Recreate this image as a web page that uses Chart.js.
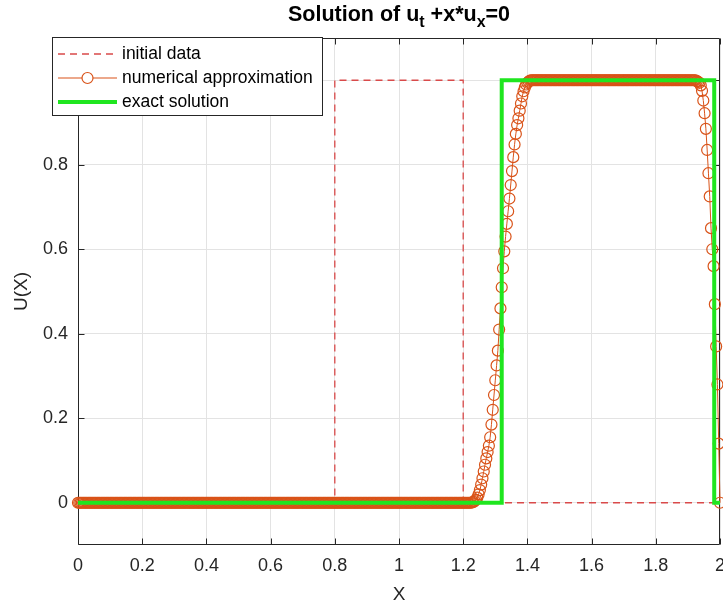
<!DOCTYPE html>
<html>
<head>
<meta charset="utf-8">
<title>Solution of u_t + x*u_x = 0</title>
<script src="https://cdn.jsdelivr.net/npm/chart.js@4.4.1/dist/chart.umd.min.js"></script>
<style>
  html, body { margin: 0; padding: 0; background: #ffffff; overflow: hidden; }
  #wrap { width: 760px; height: 610px; }
</style>
</head>
<body>
<div id="wrap"><canvas id="plot" width="760" height="610"></canvas></div>
<script>
// ---- axis ticks ----
const xTicks = [0, 0.2, 0.4, 0.6, 0.8, 1, 1.2, 1.4, 1.6, 1.8, 2];
const xTickLabels = ['0', '0.2', '0.4', '0.6', '0.8', '1', '1.2', '1.4', '1.6', '1.8', '2'];
const yTicks = [0, 0.2, 0.4, 0.6, 0.8, 1];
const yTickLabels = ['0', '0.2', '0.4', '0.6', '0.8', '1'];

// ---- series ----
const seriesNames = ['initial data', 'numerical approximation', 'exact solution'];

// initial step profile
const initialX = [0, 0.8, 0.8, 1.2, 1.2, 2];
const initialU = [0, 0, 1, 1, 0, 0];

// exact solution at the final time
const exactX = [0, 1.32, 1.32, 1.982, 1.982, 2];
const exactU = [0, 0, 1, 1, 0, 0];

// numerical approximation on the uniform grid x = 0, 0.004, ..., 2
const gridStep = 0.004;
const numericalU = [
  0,0,0,0,0, 0,0,0,0,0, 0,0,0,0,0, 0,0,0,0,0, 0,0,0,0,0,
  0,0,0,0,0, 0,0,0,0,0, 0,0,0,0,0, 0,0,0,0,0, 0,0,0,0,0,
  0,0,0,0,0, 0,0,0,0,0, 0,0,0,0,0, 0,0,0,0,0, 0,0,0,0,0,
  0,0,0,0,0, 0,0,0,0,0, 0,0,0,0,0, 0,0,0,0,0, 0,0,0,0,0,
  0,0,0,0,0, 0,0,0,0,0, 0,0,0,0,0, 0,0,0,0,0, 0,0,0,0,0,
  0,0,0,0,0, 0,0,0,0,0, 0,0,0,0,0, 0,0,0,0,0, 0,0,0,0,0,
  0,0,0,0,0, 0,0,0,0,0, 0,0,0,0,0, 0,0,0,0,0, 0,0,0,0,0,
  0,0,0,0,0, 0,0,0,0,0, 0,0,0,0,0, 0,0,0,0,0, 0,0,0,0,0,
  0,0,0,0,0, 0,0,0,0,0, 0,0,0,0,0, 0,0,0,0,0, 0,0,0,0,0,
  0,0,0,0,0, 0,0,0,0,0, 0,0,0,0,0, 0,0,0,0,0, 0,0,0,0,0,
  0,0,0,0,0, 0,0,0,0,0, 0,0,0,0,0, 0,0,0,0,0, 0,0,0,0,0,
  0,0,0,0,0, 0,0,0,0,0, 0,0,0,0,0, 0,0,0,0,0, 0,0,0,0,0,
  0,0,0,0,0,
  // smeared leading front
  0, 0, 0.001, 0.002, 0.004, 0.007, 0.012, 0.02, 0.03, 0.043,
  0.058, 0.074, 0.09, 0.105, 0.12, 0.135, 0.155, 0.185, 0.22, 0.255,
  0.29, 0.325, 0.36, 0.41, 0.46, 0.51, 0.555, 0.595, 0.63, 0.66,
  0.69, 0.72, 0.752, 0.785, 0.818, 0.848, 0.873, 0.894, 0.91, 0.928,
  0.945, 0.962, 0.974, 0.983, 0.99, 0.994, 0.997, 0.999,
  // plateau
  1,1,1,1,1, 1,1,1,1,1, 1,1,1,1,1, 1,1,1,1,1, 1,1,1,1,1,
  1,1,1,1,1, 1,1,1,1,1, 1,1,1,1,1, 1,1,1,1,1, 1,1,1,1,1,
  1,1,1,1,1, 1,1,1,1,1, 1,1,1,1,1, 1,1,1,1,1, 1,1,1,1,1,
  1,1,1,1,1, 1,1,1,1,1, 1,1,1,1,1, 1,1,1,1,1, 1,1,1,1,1,
  1,1,1,1,1, 1,1,1,1,1, 1,1,1,1,1, 1,1,1,1,1, 1,1,1,1,1,
  1,1,1,1,
  // trailing front
  0.998, 0.996, 0.994, 0.988, 0.975, 0.952, 0.922, 0.885, 0.835, 0.78,
  0.725, 0.65, 0.6, 0.56, 0.47, 0.37, 0.28, 0.14, 0
];

// ---- text ----
const titleRuns = [['Solution of u', false], ['t', true], [' +x*u', false], ['x', true], ['=0', false]];
const xAxisTitle = 'X';
const yAxisTitle = 'U(X)';

// ---- styling ----
const FAMILY = "'Liberation Sans', Arial, Helvetica, sans-serif";
const AXIS_COLOR = '#262626';
const GRID_COLOR = '#e3e3e3';
const INITIAL_COLOR = '#d94a4a';
const NUMERICAL_COLOR = '#d95319';
const EXACT_COLOR = '#1fe61f';

const toPoints = (xs, ys) => xs.map((x, i) => ({ x: x, y: ys[i] }));
const numericalPoints = numericalU.map((u, i) => ({ x: Math.round(i * gridStep * 1000) / 1000, y: u }));

// axis box and inward tick marks
const axesBox = {
  id: 'axesBox',
  beforeDatasetsDraw(chart) {
    const { ctx, chartArea: a, scales } = chart;
    ctx.save();
    ctx.strokeStyle = AXIS_COLOR;
    ctx.lineWidth = 1;
    const L = Math.round(a.left) + 0.5, R = Math.round(a.right) - 0.5;
    const T = Math.round(a.top) + 0.5, B = Math.round(a.bottom) - 0.5;
    ctx.beginPath();
    ctx.rect(L, T, R - L, B - T);
    ctx.stroke();
    const tl = 6;
    ctx.beginPath();
    xTicks.forEach(v => {
      const px = Math.round(scales.x.getPixelForValue(v)) + 0.5;
      ctx.moveTo(px, B); ctx.lineTo(px, B - tl);
      ctx.moveTo(px, T); ctx.lineTo(px, T + tl);
    });
    yTicks.forEach(v => {
      const py = Math.round(scales.y.getPixelForValue(v)) + 0.5;
      ctx.moveTo(L, py); ctx.lineTo(L + tl, py);
      ctx.moveTo(R, py); ctx.lineTo(R - tl, py);
    });
    ctx.stroke();
    ctx.restore();
  }
};

// title, axis titles and the legend box
const annotations = {
  id: 'annotations',
  afterDraw(chart) {
    const { ctx, chartArea: a } = chart;
    const cx = (a.left + a.right) / 2;
    ctx.save();

    // title with subscripts
    const bigFont = 'bold 21.5px ' + FAMILY;
    const subFont = 'bold 16px ' + FAMILY;
    let total = 0;
    titleRuns.forEach(([s, sub]) => { ctx.font = sub ? subFont : bigFont; total += ctx.measureText(s).width; });
    let x = cx - total / 2;
    const baseline = 21;
    ctx.fillStyle = '#000000';
    ctx.textBaseline = 'alphabetic';
    ctx.textAlign = 'left';
    titleRuns.forEach(([s, sub]) => {
      ctx.font = sub ? subFont : bigFont;
      ctx.fillText(s, x, sub ? baseline + 6 : baseline);
      x += ctx.measureText(s).width;
    });

    // axis titles
    ctx.fillStyle = AXIS_COLOR;
    ctx.font = '19px ' + FAMILY;
    ctx.textAlign = 'center';
    ctx.textBaseline = 'middle';
    ctx.fillText(xAxisTitle, cx, 595);
    ctx.save();
    ctx.translate(22, (a.top + a.bottom) / 2);
    ctx.rotate(-Math.PI / 2);
    ctx.fillText(yAxisTitle, 0, 0);
    ctx.restore();

    // legend
    const bx = 52.5, by = 37.5, bw = 270, bh = 78;
    ctx.fillStyle = '#ffffff';
    ctx.fillRect(bx, by, bw, bh);
    ctx.strokeStyle = AXIS_COLOR;
    ctx.lineWidth = 1;
    ctx.strokeRect(bx, by, bw, bh);
    const rows = [54, 78, 102];
    const x0 = 58, x1 = 117;
    // initial data sample
    ctx.strokeStyle = INITIAL_COLOR;
    ctx.lineWidth = 1.3;
    ctx.setLineDash([7, 5]);
    ctx.beginPath(); ctx.moveTo(x0, rows[0]); ctx.lineTo(x1, rows[0]); ctx.stroke();
    ctx.setLineDash([]);
    // numerical sample
    ctx.strokeStyle = NUMERICAL_COLOR;
    ctx.lineWidth = 1.2;
    ctx.beginPath(); ctx.moveTo(x0, rows[1]); ctx.lineTo(x1, rows[1]); ctx.stroke();
    ctx.fillStyle = '#ffffff';
    ctx.beginPath(); ctx.arc((x0 + x1) / 2, rows[1], 5.5, 0, Math.PI * 2); ctx.fill(); ctx.stroke();
    // exact sample
    ctx.strokeStyle = EXACT_COLOR;
    ctx.lineWidth = 4;
    ctx.beginPath(); ctx.moveTo(x0, rows[2]); ctx.lineTo(x1, rows[2]); ctx.stroke();
    // labels
    ctx.fillStyle = '#000000';
    ctx.font = '17.5px ' + FAMILY;
    ctx.textAlign = 'left';
    ctx.textBaseline = 'middle';
    seriesNames.forEach((n, i) => ctx.fillText(n, 122, rows[i]));
    ctx.restore();
  }
};

new Chart(document.getElementById('plot'), {
  type: 'scatter',
  data: {
    datasets: [
      {
        label: seriesNames[0],
        data: toPoints(initialX, initialU),
        showLine: true,
        borderColor: INITIAL_COLOR,
        borderWidth: 1.3,
        borderDash: [7, 5],
        pointRadius: 0,
        order: 2
      },
      {
        label: seriesNames[1],
        data: numericalPoints,
        showLine: true,
        borderColor: NUMERICAL_COLOR,
        borderWidth: 1,
        pointStyle: 'circle',
        pointRadius: 5.5,
        pointBorderWidth: 1.2,
        pointBorderColor: NUMERICAL_COLOR,
        pointBackgroundColor: 'rgba(0,0,0,0)',
        clip: false,
        order: 1
      },
      {
        label: seriesNames[2],
        data: toPoints(exactX, exactU),
        showLine: true,
        borderColor: EXACT_COLOR,
        borderWidth: 4,
        pointRadius: 0,
        order: 0
      }
    ]
  },
  options: {
    responsive: false,
    animation: false,
    devicePixelRatio: 1,
    events: [],
    layout: { padding: { top: 38, right: 40, bottom: 0, left: 0 } },
    plugins: {
      legend: { display: false },
      tooltip: { enabled: false },
      title: { display: false }
    },
    scales: {
      x: {
        type: 'linear',
        min: 0,
        max: 2,
        afterBuildTicks: s => { s.ticks = xTicks.map(v => ({ value: v })); },
        afterFit: s => { s.height = 65; },
        ticks: {
          callback: (v, i) => xTickLabels[i],
          font: { size: 18, family: FAMILY },
          color: AXIS_COLOR,
          padding: 10,
          maxRotation: 0,
          autoSkip: false
        },
        grid: { color: GRID_COLOR, lineWidth: 1, drawTicks: false },
        border: { display: false }
      },
      y: {
        type: 'linear',
        min: -0.1,
        max: 1.1,
        afterBuildTicks: s => { s.ticks = yTicks.map(v => ({ value: v })); },
        afterFit: s => { s.width = 78; },
        ticks: {
          callback: (v, i) => yTickLabels[i],
          font: { size: 18, family: FAMILY },
          color: AXIS_COLOR,
          padding: 10,
          autoSkip: false
        },
        grid: { color: GRID_COLOR, lineWidth: 1, drawTicks: false },
        border: { display: false }
      }
    }
  },
  plugins: [axesBox, annotations]
});
</script>
</body>
</html>
